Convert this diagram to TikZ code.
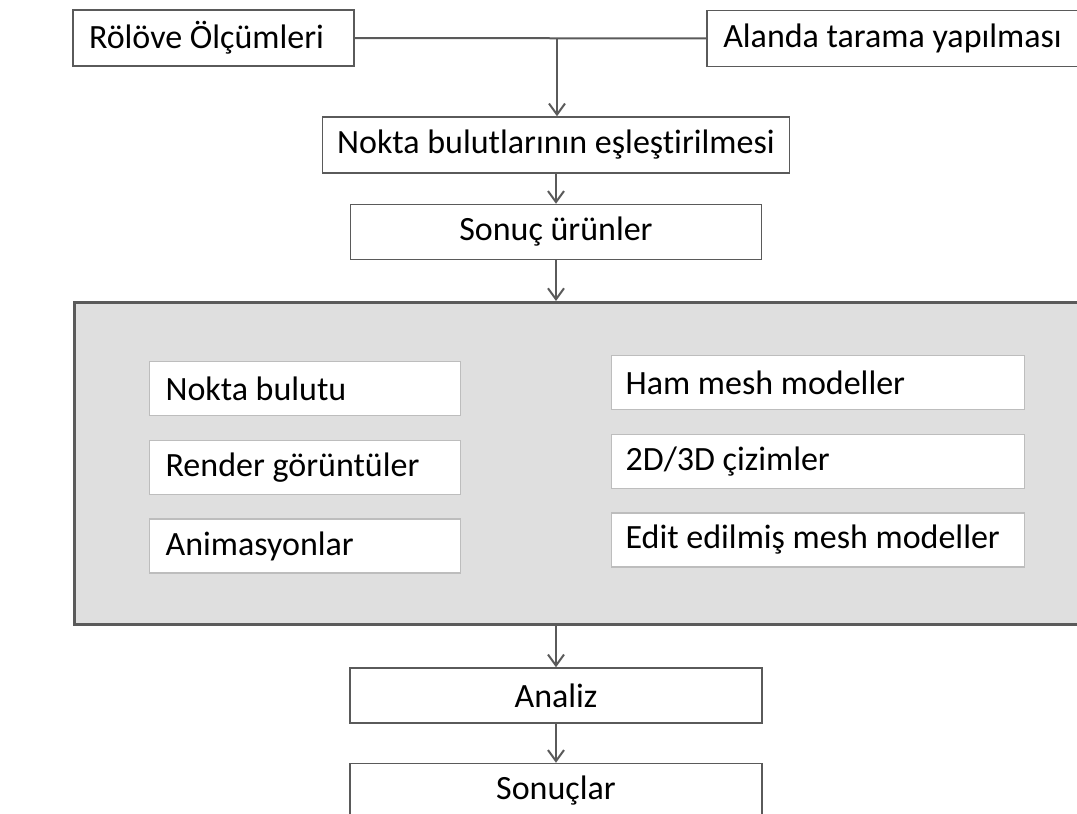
\documentclass[tikz,border=0pt]{standalone}
\usepackage{fontspec}
\setmainfont{Carlito}[Ligatures=NoCommon]
\usetikzlibrary{arrows.meta,positioning}
\definecolor{cizgi}{HTML}{5A5A5A}
\definecolor{zemin}{HTML}{DFDFDF}
\definecolor{icsinir}{HTML}{BDBDBD}
\tikzset{
  yazi/.style={font=\fontsize{17}{20}\selectfont,text=black},
  kutu/.style={yazi,draw=cizgi,line width=0.75pt,fill=white,inner sep=0pt,minimum height=28pt},
  ickutu/.style={yazi,draw=icsinir,line width=0.6pt,fill=white,inner ysep=0pt,minimum height=27pt,align=flush left},
  grikutu/.style={draw=cizgi,line width=1.3pt,fill=zemin},
  ok/.style={draw=cizgi,line width=1pt,-{Straight Barb[length=5.5pt,width=8pt,line width=1pt]}},
  bag/.style={draw=cizgi,line width=1pt},
}
\begin{document}
\begin{tikzpicture}[x=0.5pt,y=-0.5pt]
  \useasboundingbox (0,0) rectangle (1077,814);
  \clip (0,0) rectangle (1077,814);
  % ust giris kutulari
  \node[kutu,inner xsep=8pt,text width=124.5pt,align=flush left] (rol) at (213.5,38) {Rölöve Ölçümleri};
  \node[kutu,minimum width=185.5pt] (alan) at (892.5,38.5) {Alanda tarama yapılması};
  \coordinate (birles) at (557,39);
  \node[kutu,minimum width=233.5pt] (esles) at (556,145) {Nokta bulutlarının eşleştirilmesi};
  \node[kutu,minimum width=205.5pt,minimum height=27.5pt,below=15pt of esles] (sonuc) {Sonuç ürünler};
  % sonuc urunler grubu
  \node[grikutu,anchor=north west,minimum width=504.5pt,minimum height=161pt] (urun) at (73,301) {};
  \node[ickutu,anchor=north west,inner xsep=8pt,text width=139.5pt] (nb) at (149,361) {Nokta bulutu};
  \node[ickutu,inner xsep=8pt,text width=139.5pt,below=12pt of nb] (rg) {Render görüntüler};
  \node[ickutu,inner xsep=8pt,text width=139.5pt,below=11.5pt of rg] (an) {Animasyonlar};
  \node[ickutu,anchor=north west,inner xsep=7pt,text width=192.5pt] (hm) at (611,355) {Ham mesh modeller};
  \node[ickutu,inner xsep=7pt,text width=192.5pt,below=12pt of hm] (cz) {2D/3D çizimler};
  \node[ickutu,inner xsep=7pt,text width=192.5pt,below=11.5pt of cz] (em) {Edit edilmiş mesh modeller};
  % sonraki adimlar
  \node[kutu,minimum width=206pt,minimum height=27.5pt] (analiz) at (556,695.5) {Analiz};
  \node[kutu,minimum width=206pt,minimum height=27.5pt,below=19.5pt of analiz] (sonuclar) {Sonuçlar};
  % baglantilar
  \draw[bag] (rol) -- (alan);
  \draw[ok] (birles) -- (esles.north -| birles);
  \draw[ok] (esles.south -| sonuc.north) -- (sonuc.north);
  \draw[ok] (sonuc.south) -- (sonuc.south |- urun.north);
  \draw[ok] (analiz.north |- urun.south) -- (analiz.north);
  \draw[ok] (analiz) -- (sonuclar);
\end{tikzpicture}
\end{document}
